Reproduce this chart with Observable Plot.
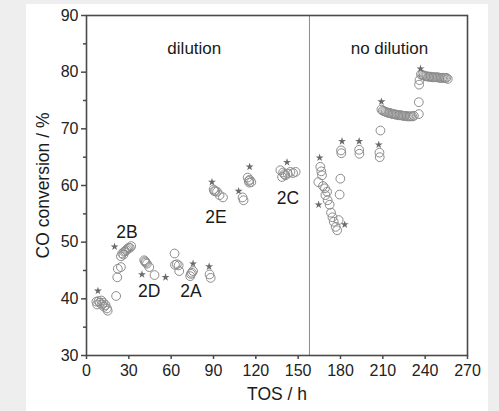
<!DOCTYPE html>
<html><head><meta charset="utf-8">
<script src="https://cdn.jsdelivr.net/npm/d3@7"></script>
<script src="https://cdn.jsdelivr.net/npm/@observablehq/plot@0.6"></script>
<style>
body{margin:0;background:#eeeeee;}
#panel{position:absolute;left:26px;top:4px;width:462px;height:407px;background:#fff;}
#chart{position:absolute;left:0;top:0;}
</style></head><body>
<div id="panel"></div><div id="chart"></div>
<script>
// Circle data: TOS (h) and CO conversion (%)
const circleTos = [7,7.5,8.5,9.5,10.5,11,12,12.5,13.5,14.5,15,
  21,21.8,22.2,24.4,
  24.4,25.3,26.2,26.7,27.5,28.2,29,29.8,30.7,31.7,
  40.9,41.5,42,42.8,44.5,48.2,
  62.4,62.7,64,65.3,65.7,73.5,74,74.7,75.5,87.2,88,
  90.1,90.6,91.3,92.5,94.3,96.7,110.6,111.3,114.2,115,115.6,116.8,115.4,
  137.4,138.6,139.3,140.2,140.9,142.6,144.5,146.4,148.2,
  165.7,166.4,166.9,164.3,167.6,169,170.5,169.3,170.9,172.3,173.3,174.3,175.2,176.6,177.6,178.7,179.9,179.4,
  180.4,180.6,193.2,193.4,207.6,207.8,208.3,
  209,210,211,212,213,214,215,216,217,218,219,220,221,222,223,224,225,226,227,228,229,230,231,232,235.5,235.5,
  236,235.7,237,238,239,240,241,242,243,244,245,246,247,248,249,250,251,252,253,254,255,256];
const circleConv = [39.5,39.0,39.6,39.3,39.7,39.0,39.3,38.6,38.9,38.3,37.9,
  40.5,43.8,45.3,45.6,
  47.5,48.0,47.8,48.3,48.4,48.6,48.8,49.0,49.0,49.3,
  46.8,46.6,46.4,46.2,45.6,44.2,
  48.0,46.0,46.1,45.9,44.9,44.0,44.4,44.6,44.9,44.3,43.7,
  59.3,59.0,59.0,58.9,58.3,57.9,57.9,57.4,61.4,60.8,61.0,60.6,60.5,
  62.7,61.5,62.3,62.0,61.8,62.1,62.4,62.2,62.4,
  63.3,62.5,61.8,60.6,59.9,59.5,58.9,58.3,57.4,56.6,55.2,54.4,53.6,52.7,52.1,53.9,61.2,58.4,
  66.2,65.7,66.3,65.6,65.8,65.0,69.7,
  73.4,73.2,73.1,73.0,72.9,72.8,72.8,72.7,72.6,72.6,72.5,72.5,72.4,72.4,72.4,72.3,72.3,72.3,72.2,72.2,72.2,72.2,72.2,72.3,72.6,74.7,
  78.6,77.8,79.6,79.5,79.4,79.3,79.3,79.2,79.2,79.2,79.1,79.1,79.1,79.1,79.1,79.0,79.0,79.0,79.0,79.0,79.0,78.8];
// Star markers
const starTos = [8.1,19.9,39.3,56,75.5,86.9,88.9,107.8,115.6,142.1,165.2,164.5,183,181.1,193.2,207.1,209,236.7];
const starConv = [41.4,49.2,44.3,43.8,46.2,45.7,60.6,59.0,63.3,64.1,64.9,56.6,53.1,67.8,67.8,67.2,74.8,80.6];
// Sample labels
const labelText = ["2B","2D","2A","2E","2C"];
const labelTos = [28.6,44.5,74,91.8,142.8];
const labelConv = [51.7,41.4,41.3,54.3,57.8];
// Regions
const regionText = ["dilution","no dilution"];
const regionTos = [76.4,214.7];
const regionConv = [84.2,84.2];
const dividerTos = [158];
const xTicks = [0,30,60,90,120,150,180,210,240,270];
const yTicks = [30,40,50,60,70,80,90];
const yMinor = [35,45,55,65,75,85];

const circles = circleTos.map((t,i)=>({t, c: circleConv[i]}));
const stars = starTos.map((t,i)=>({t, c: starConv[i]}));
const labels = labelText.map((s,i)=>({s, t: labelTos[i], c: labelConv[i]}));
const regions = regionText.map((s,i)=>({s, t: regionTos[i], c: regionConv[i]}));

const axisColor = "#4a4a4a";
const plot = Plot.plot({
  width: 499, height: 411,
  marginLeft: 86, marginRight: 32, marginTop: 15, marginBottom: 56,
  style: {fontFamily: "'Liberation Sans', Arial, sans-serif", fontSize: "16px", background: "transparent", color: "#222"},
  x: {domain: [0,270]},
  y: {domain: [30,90]},
  marks: [
    Plot.ruleX(dividerTos, {stroke: "#8a8a8a", strokeWidth: 1}),
    Plot.dot(circles, {x: "t", y: "c", r: 4.4, stroke: "#8c8c8c", strokeWidth: 1, fill: "none"}),
    Plot.dot(stars, {x: "t", y: "c", symbol: "star", r: 2.5, fill: "#6a6a6a", stroke: "none"}),
    Plot.text(labels, {x: "t", y: "c", text: "s", fontSize: 17.5, fill: "#1a1a1a"}),
    Plot.text(regions, {x: "t", y: "c", text: "s", fontSize: 17, fill: "#1a1a1a"}),
    Plot.frame({stroke: axisColor, strokeWidth: 1.6}),
    Plot.axisX({ticks: xTicks, tickSize: 4, tickPadding: 5, label: null, stroke: axisColor, strokeWidth: 1.5, fontSize: 16, fill: "#222"}),
    Plot.axisY({ticks: yTicks, tickSize: 5, tickPadding: 3, label: null, stroke: axisColor, strokeWidth: 1.5, fontSize: 16, fill: "#222"}),
    Plot.axisY({ticks: yMinor, tickSize: 3, text: null, label: null, stroke: axisColor, strokeWidth: 1.5}),
    Plot.text(["TOS / h"], {frameAnchor: "bottom", dy: 44, fontSize: 17.5, fill: "#1a1a1a"}),
    Plot.text(["CO conversion / %"], {frameAnchor: "left", dx: -43, rotate: -90, textAnchor: "middle", fontSize: 17.5, fill: "#1a1a1a"})
  ]
});
document.getElementById("chart").appendChild(plot);
</script></body></html>
